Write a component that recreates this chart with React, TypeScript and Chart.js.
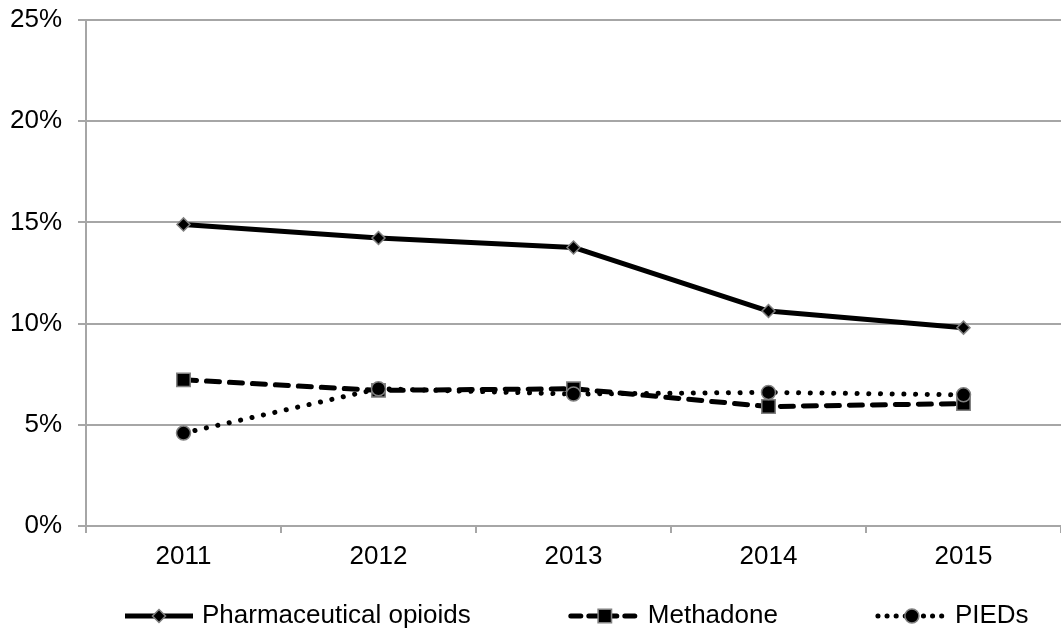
import React, { useEffect, useRef } from "react";
import { Chart, registerables } from "chart.js";

Chart.register(...registerables);

const years = ["2011", "2012", "2013", "2014", "2015"];
const opioids = [14.9, 14.23, 13.76, 10.62, 9.8];
const methadone = [7.22, 6.7, 6.78, 5.9, 6.05];
const pieds = [4.59, 6.78, 6.52, 6.6, 6.48];
const seriesNames = ["Pharmaceutical opioids", "Methadone", "PIEDs"];
const yTicks = [0, 5, 10, 15, 20, 25];

const FONT = "'Liberation Sans', Arial, sans-serif";
const GRID = "#a6a6a6";

function drawMarker(ctx: CanvasRenderingContext2D, style: string, x: number, y: number, r: number) {
  ctx.beginPath();
  if (style === "rectRot") {
    ctx.moveTo(x, y - r);
    ctx.lineTo(x + r, y);
    ctx.lineTo(x, y + r);
    ctx.lineTo(x - r, y);
    ctx.closePath();
  } else if (style === "rect") {
    const s = r * Math.SQRT1_2;
    ctx.rect(x - s, y - s, 2 * s, 2 * s);
  } else {
    ctx.arc(x, y, r, 0, Math.PI * 2);
  }
  ctx.fillStyle = "#000";
  ctx.fill();
  ctx.lineWidth = 1.5;
  ctx.strokeStyle = "#808080";
  ctx.setLineDash([]);
  ctx.stroke();
}

const legendPlugin = {
  id: "customLegend",
  afterDraw(chart: any) {
    const ctx: CanvasRenderingContext2D = chart.ctx;
    const y = 616;
    let x = 123;
    const symW = 72;
    ctx.save();
    ctx.font = `26px ${FONT}`;
    chart.data.datasets.forEach((ds: any) => {
      ctx.beginPath();
      ctx.lineWidth = ds.borderWidth;
      ctx.strokeStyle = ds.borderColor;
      ctx.lineCap = ds.borderCapStyle || "butt";
      ctx.setLineDash(ds.legendDash || []);
      ctx.moveTo(x + 2, y);
      ctx.lineTo(x + symW - 2, y);
      ctx.stroke();
      ctx.setLineDash([]);
      drawMarker(ctx, ds.pointStyle, x + symW / 2, y, ds.pointRadius);
      ctx.fillStyle = "#000";
      ctx.textBaseline = "middle";
      ctx.textAlign = "left";
      const tx = x + symW + 7;
      ctx.fillText(ds.label, tx, y);
      x = tx + ctx.measureText(ds.label).width + 98;
    });
    ctx.restore();
  },
};

function zeroPad(s: any) {
  s.paddingTop = 0;
  s.paddingBottom = 0;
  s.paddingLeft = 0;
  s.paddingRight = 0;
}

export default function App() {
  const ref = useRef<HTMLCanvasElement | null>(null);

  useEffect(() => {
    if (!ref.current) return;
    const chart = new Chart(ref.current, {
      type: "line",
      data: {
        labels: years,
        datasets: [
          {
            label: seriesNames[0],
            data: opioids,
            borderColor: "#000",
            borderWidth: 5,
            borderJoinStyle: "round",
            pointStyle: "rectRot",
            pointRadius: 6.5,
            pointBackgroundColor: "#000",
            pointBorderColor: "#808080",
            pointBorderWidth: 1.5,
            tension: 0,
            fill: false,
            order: 2,
          } as any,
          {
            label: seriesNames[1],
            data: methadone,
            borderColor: "#000",
            borderWidth: 5,
            borderDash: [13, 10],
            borderCapStyle: "round",
            legendDash: [10, 8],
            pointStyle: "rect",
            pointRadius: 9.5,
            pointBackgroundColor: "#000",
            pointBorderColor: "#808080",
            pointBorderWidth: 1.5,
            tension: 0,
            fill: false,
            order: 1,
          } as any,
          {
            label: seriesNames[2],
            data: pieds,
            borderColor: "#000",
            borderWidth: 5,
            borderDash: [0.1, 11.6],
            borderCapStyle: "round",
            legendDash: [0.1, 9],
            pointStyle: "circle",
            pointRadius: 7,
            pointBackgroundColor: "#000",
            pointBorderColor: "#808080",
            pointBorderWidth: 1.5,
            tension: 0,
            fill: false,
            order: 0,
          } as any,
        ],
      },
      options: {
        animation: false,
        responsive: false,
        maintainAspectRatio: false,
        layout: { autoPadding: false, padding: { top: 20, right: 0, left: 0, bottom: 56 } },
        plugins: {
          legend: { display: false },
          tooltip: { enabled: false },
        },
        scales: {
          x: {
            type: "category",
            offset: true,
            grid: {
              display: true,
              offset: true,
              drawOnChartArea: false,
              drawTicks: true,
              tickLength: 7,
              color: GRID,
              lineWidth: 2,
            },
            border: { display: true, color: GRID, width: 2 },
            ticks: {
              color: "#000",
              font: { family: FONT, size: 26 },
              padding: 8,
              maxRotation: 0,
            },
            afterFit: (s: any) => {
              s.height = 50;
              zeroPad(s);
            },
          },
          y: {
            min: 0,
            max: 25,
            afterBuildTicks: (s: any) => {
              s.ticks = yTicks.map((v) => ({ value: v }));
            },
            grid: {
              color: GRID,
              lineWidth: 2,
              drawTicks: true,
              tickLength: 8,
            },
            border: { display: true, color: GRID, width: 2 },
            ticks: {
              color: "#000",
              font: { family: FONT, size: 26 },
              padding: 16,
              callback: (v: any) => `${v}%`,
            },
            afterFit: (s: any) => {
              s.width = 86;
              zeroPad(s);
            },
          },
        },
      },
      plugins: [legendPlugin],
    });
    return () => chart.destroy();
  }, []);

  return (
    <div style={{ position: "fixed", left: 0, top: 0, width: 1061, height: 632, background: "#fff" }}>
      <canvas ref={ref} width={1061} height={632} />
    </div>
  );
}
